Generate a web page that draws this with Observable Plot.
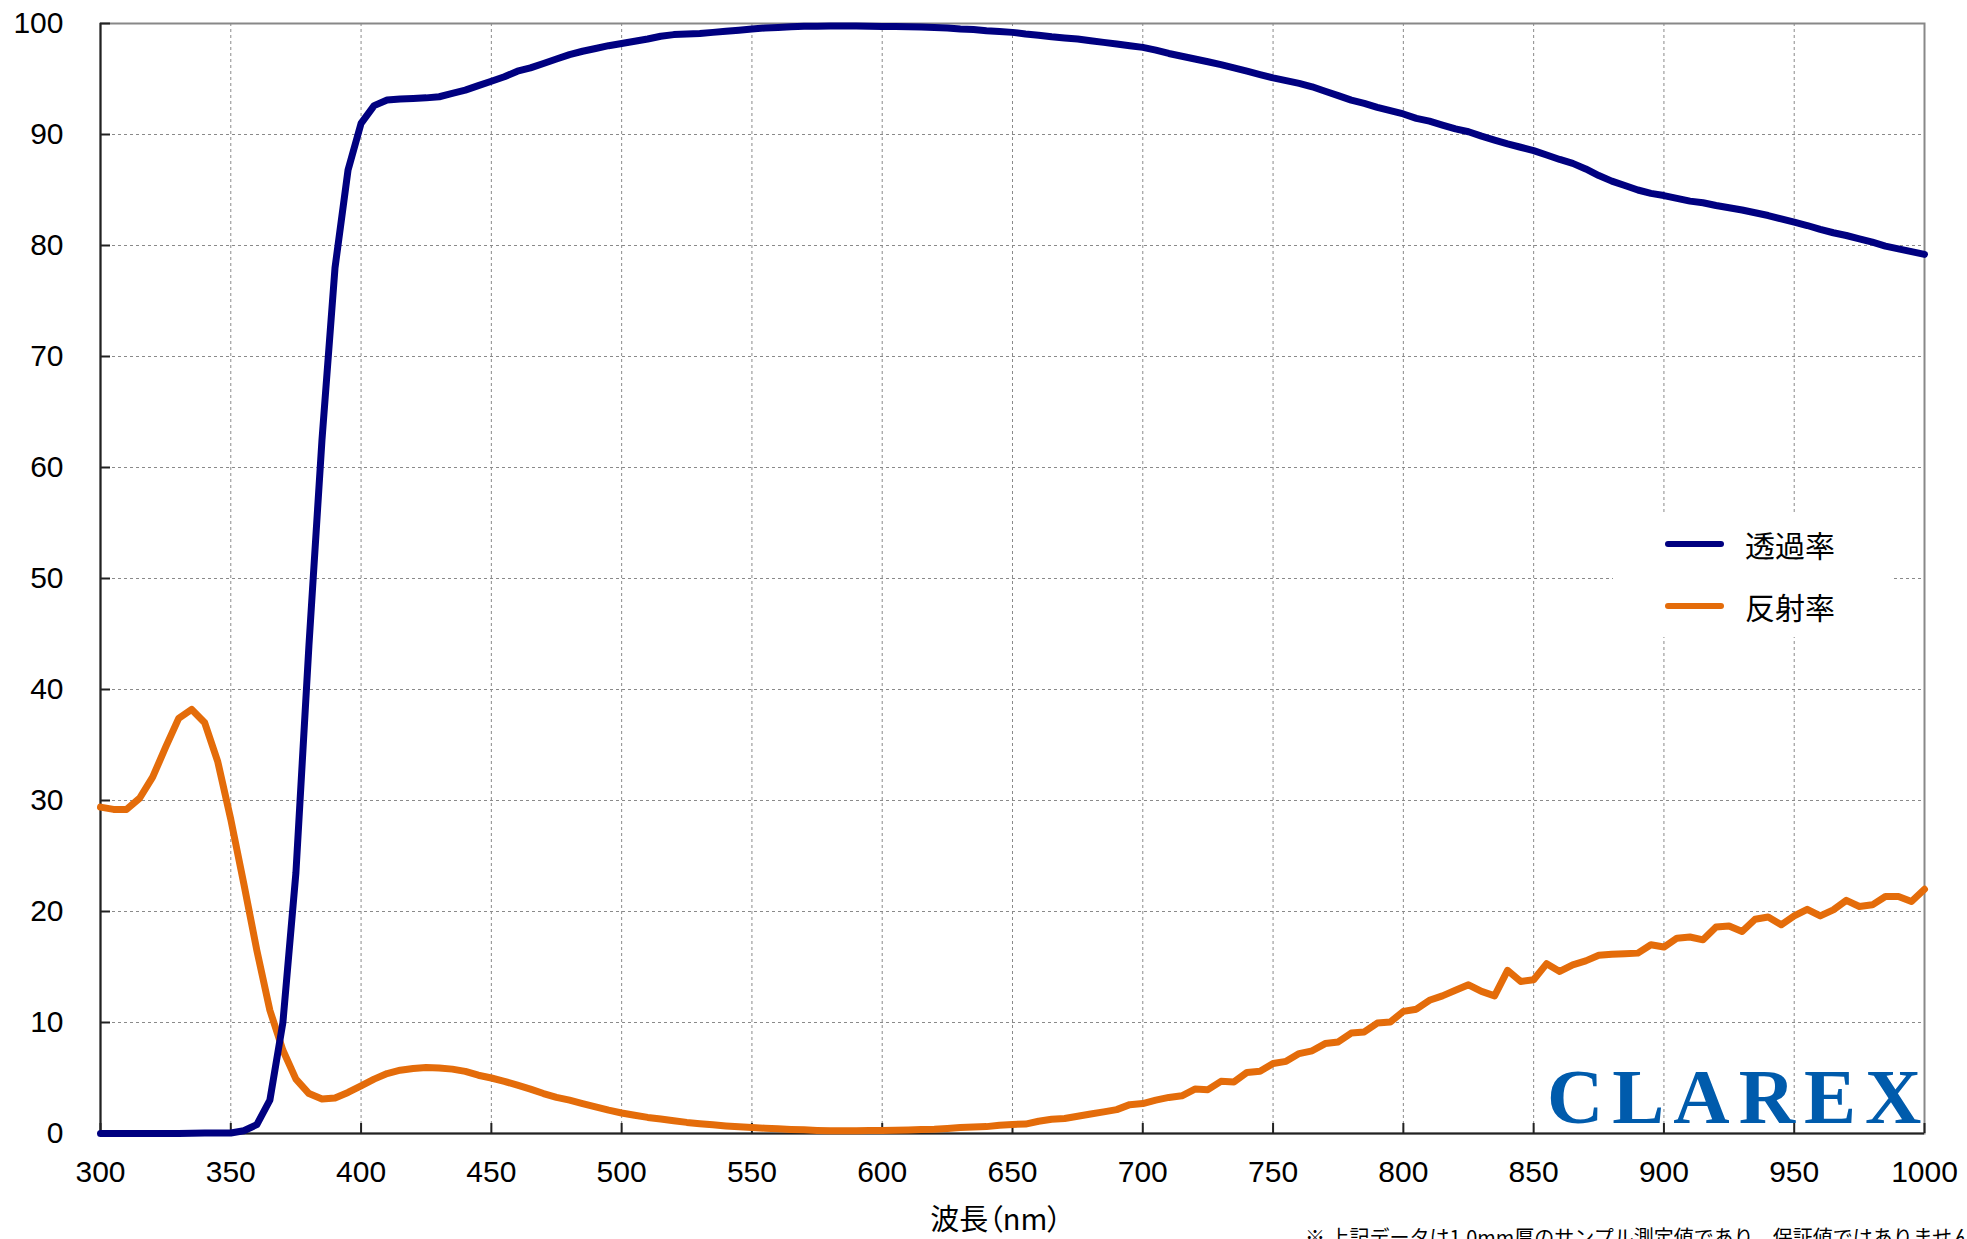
<!DOCTYPE html>
<html>
<head>
<meta charset="utf-8">
<script src="https://cdn.jsdelivr.net/npm/d3@7"></script>
<script src="https://cdn.jsdelivr.net/npm/@observablehq/plot@0.6"></script>
<style>
  html, body { margin: 0; padding: 0; background: #fff; overflow: hidden; }
  #wrap { position: relative; width: 1967px; height: 1239px; overflow: hidden; }
  #chart svg { display: block; }
  .abs { position: absolute; white-space: nowrap; }
  #legend { left: 1613px; top: 513px; width: 280px; height: 124px; background: #fff; }
  .sw { position: absolute; left: 52px; width: 59px; height: 6px; border-radius: 3px; }
  .lt { position: absolute; left: 132px; font-family: "Noto Sans CJK JP", sans-serif; font-size: 30px; line-height: 30px; color: #000; }
  #logo { left: 1547px; top: 1058px; font-family: "Liberation Serif", "DejaVu Serif", serif; font-weight: bold; font-size: 78px; line-height: 78px; letter-spacing: 9px; color: #005bac; }
  #xtitle { left: 846px; width: 300px; text-align: center; top: 1202px; height: 30px; font-family: "Noto Sans CJK JP", sans-serif; font-size: 29px; line-height: 30px; color: #000; font-feature-settings: "palt"; }
  #note { left: 1305px; top: 1227px; font-family: "Noto Sans CJK JP", sans-serif; font-size: 20px; line-height: 20px; color: #000; }
</style>
</head>
<body>
<div id="wrap">
  <div id="chart"></div>
  <div id="legend" class="abs"></div>
  <div id="logo" class="abs">CLAREX</div>
  <div id="xtitle" class="abs"></div>
  <div id="note" class="abs"></div>
</div>
<script>
// ---- data ----
const wavelengths = [300,305,310,315,320,325,330,335,340,345,350,355,360,365,370,375,380,385,390,395,
  400,405,410,415,420,425,430,435,440,445,450,455,460,465,470,475,480,485,490,495,
  500,505,510,515,520,525,530,535,540,545,550,555,560,565,570,575,580,585,590,595,
  600,605,610,615,620,625,630,635,640,645,650,655,660,665,670,675,680,685,690,695,
  700,705,710,715,720,725,730,735,740,745,750,755,760,765,770,775,780,785,790,795,
  800,805,810,815,820,825,830,835,840,845,850,855,860,865,870,875,880,885,890,895,
  900,905,910,915,920,925,930,935,940,945,950,955,960,965,970,975,980,985,990,995,1000];

const transmittance = [0,0,0,0,0,0,0,0.02,0.04,0.05,0.05,0.25,0.8,3.0,10.0,23.5,44,62.5,78,86.8,
  91.0,92.6,93.1,93.2,93.25,93.3,93.4,93.7,94.0,94.4,94.8,95.2,95.7,96.0,96.4,96.8,97.2,97.5,97.75,98.0,
  98.2,98.4,98.6,98.85,99.0,99.05,99.1,99.2,99.3,99.4,99.5,99.6,99.65,99.7,99.75,99.76,99.77,99.77,99.77,99.75,
  99.73,99.72,99.7,99.68,99.65,99.6,99.5,99.45,99.35,99.28,99.2,99.05,98.95,98.8,98.7,98.6,98.45,98.3,98.15,98.0,
  97.85,97.6,97.3,97.05,96.8,96.55,96.3,96.0,95.7,95.4,95.1,94.85,94.6,94.3,93.9,93.5,93.1,92.8,92.45,92.15,
  91.85,91.45,91.2,90.85,90.5,90.25,89.85,89.5,89.15,88.85,88.55,88.15,87.75,87.4,86.9,86.3,85.8,85.4,85.0,84.7,
  84.5,84.25,84.0,83.85,83.6,83.4,83.2,82.95,82.7,82.4,82.1,81.8,81.45,81.15,80.9,80.6,80.3,79.95,79.7,79.45,79.2];

const reflectance = [29.4,29.2,29.2,30.2,32.1,34.8,37.4,38.2,37.0,33.5,28.3,22.5,16.5,11.1,7.5,4.9,3.6,3.1,3.2,3.7,
  4.3,4.9,5.4,5.7,5.85,5.95,5.9,5.8,5.6,5.25,5.0,4.7,4.35,4.0,3.6,3.25,3.0,2.7,2.4,2.1,
  1.85,1.65,1.45,1.3,1.15,1.0,0.88,0.78,0.68,0.6,0.54,0.47,0.42,0.37,0.33,0.28,0.25,0.24,0.25,0.26,
  0.27,0.3,0.32,0.35,0.38,0.45,0.54,0.58,0.62,0.75,0.82,0.85,1.1,1.28,1.35,1.55,1.75,1.95,2.15,2.6,
  2.7,3.0,3.25,3.4,4.0,3.95,4.7,4.65,5.5,5.6,6.3,6.5,7.2,7.45,8.1,8.25,9.05,9.15,9.95,10.05,
  11.0,11.2,12.0,12.4,12.9,13.4,12.8,12.4,14.7,13.7,13.85,15.3,14.6,15.2,15.55,16.05,16.15,16.2,16.25,17.0,
  16.8,17.6,17.7,17.45,18.6,18.7,18.2,19.3,19.5,18.8,19.6,20.2,19.6,20.15,21.0,20.45,20.6,21.35,21.35,20.9,22.0];

const seriesNames = ["透過率", "反射率"];
const seriesColors = ["#000080", "#e46c0a"];
const xTicks = [300,350,400,450,500,550,600,650,700,750,800,850,900,950,1000];
const yTicks = [0,10,20,30,40,50,60,70,80,90,100];
const xTitle = "波長（nm）";
const footnote = "※ 上記データは1.0mm厚のサンプル測定値であり、保証値ではありません";

// ---- build ----
const transRows = wavelengths.map((nm, i) => ({nm, v: transmittance[i]}));
const reflRows = wavelengths.map((nm, i) => ({nm, v: reflectance[i]}));

const W = 1967, H = 1239, mL = 100, mR = 43, mT = 23, mB = 106;
const frameW = W - mL - mR, frameH = H - mT - mB;

const chart = Plot.plot({
  width: W, height: H,
  marginLeft: mL, marginRight: mR, marginTop: mT, marginBottom: mB,
  style: {fontFamily: "'Liberation Sans', Arial, sans-serif", fontSize: "30px", color: "#000", background: "transparent"},
  x: {domain: [300, 1000], ticks: xTicks, tickFormat: d3.format("d"), tickSize: 0, tickPadding: 27, label: null},
  y: {domain: [0, 100], ticks: yTicks, tickFormat: d3.format("d"), tickSize: 0, tickPadding: 37, label: null},
  marks: [
    Plot.ruleX(xTicks, {x: d => d, stroke: "#8a8a8a", strokeWidth: 1, strokeDasharray: "3,3"}),
    Plot.ruleY(yTicks, {y: d => d, stroke: "#8a8a8a", strokeWidth: 1, strokeDasharray: "3,3"}),
    Plot.frame({stroke: "#888", strokeWidth: 2}),
    Plot.tickY(yTicks, {y: d => d, insetRight: frameW - 10, stroke: "#222", strokeWidth: 2}),
    Plot.tickX(xTicks, {x: d => d, insetTop: frameH - 10, stroke: "#222", strokeWidth: 2}),
    Plot.ruleX([300], {stroke: "#222", strokeWidth: 2}),
    Plot.ruleY([0], {stroke: "#222", strokeWidth: 2}),
    Plot.line(reflRows, {x: "nm", y: "v", stroke: seriesColors[1], strokeWidth: 7}),
    Plot.line(transRows, {x: "nm", y: "v", stroke: seriesColors[0], strokeWidth: 7})
  ]
});
document.getElementById("chart").appendChild(chart);

// legend
const legend = document.getElementById("legend");
seriesNames.forEach((name, i) => {
  const sw = document.createElement("div");
  sw.className = "sw";
  sw.style.top = (28 + i * 62) + "px";
  sw.style.background = seriesColors[i];
  legend.appendChild(sw);
  const t = document.createElement("div");
  t.className = "lt";
  t.style.top = (16 + i * 62) + "px";
  t.textContent = name;
  legend.appendChild(t);
});
document.getElementById("xtitle").textContent = xTitle;
document.getElementById("note").textContent = footnote;
</script>
</body>
</html>
